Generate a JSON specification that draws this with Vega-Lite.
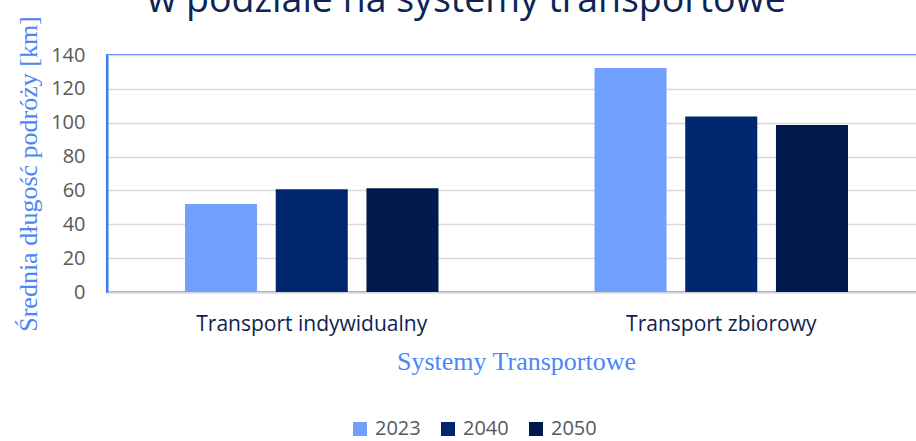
{
  "$schema": "https://vega.github.io/schema/vega-lite/v6.json",
  "width": 819,
  "height": 237,
  "autosize": "none",
  "padding": {"left": 107, "top": 55, "right": -10, "bottom": 149},
  "background": "#ffffff",
  "title": {
    "text": "w podziale na systemy transportowe",
    "font": "Open Sans",
    "fontSize": 37.5,
    "fontWeight": "normal",
    "color": "#0c2456",
    "anchor": "middle",
    "frame": "group",
    "baseline": "alphabetic",
    "offset": 2,
    "dx": -50,
    "dy": 36
  },
  "config": {"view": {"stroke": "#3b7bf3", "strokeWidth": 2}},
  "data": {
    "values": [
      {"system": "Transport indywidualny", "year": "2023", "value": 52.0},
      {"system": "Transport indywidualny", "year": "2040", "value": 60.7},
      {"system": "Transport indywidualny", "year": "2050", "value": 61.3},
      {"system": "Transport zbiorowy", "year": "2023", "value": 132.3},
      {"system": "Transport zbiorowy", "year": "2040", "value": 103.7},
      {"system": "Transport zbiorowy", "year": "2050", "value": 98.6}
    ]
  },
  "mark": {"type": "bar"},
  "encoding": {
    "x": {
      "field": "system",
      "type": "nominal",
      "sort": null,
      "scale": {"paddingInner": 0, "paddingOuter": 0},
      "axis": {
        "title": "Systemy Transportowe",
        "titleFont": "Liberation Serif",
        "titleFontSize": 26,
        "titleFontWeight": "normal",
        "titleColor": "#4a86f7",
        "titlePadding": 14,
        "titleX": 409,
        "labelAngle": 0,
        "labelFont": "Open Sans",
        "labelFontSize": 21,
        "labelLimit": 400,
        "labelColor": "#0e1f4f",
        "labelPadding": 21,
        "ticks": false,
        "domainColor": "#d0d3dc",
        "domainWidth": 2
      }
    },
    "xOffset": {
      "field": "year",
      "type": "nominal",
      "scale": {"paddingInner": 0.206, "paddingOuter": 0.86}
    },
    "y": {
      "field": "value",
      "type": "quantitative",
      "scale": {"domain": [0, 140], "nice": false},
      "axis": {
        "title": "Średnia długość podróży [km]",
        "titleFont": "Liberation Serif",
        "titleFontSize": 26,
        "titleFontWeight": "normal",
        "titleColor": "#4a86f7",
        "titlePadding": 9,
        "values": [0, 20, 40, 60, 80, 100, 120, 140],
        "labelOverlap": false,
        "labelFont": "Open Sans",
        "labelFontSize": 20,
        "labelColor": "#595959",
        "labelPadding": 22,
        "ticks": false,
        "grid": true,
        "gridColor": "#d9d9d9",
        "gridWidth": 1.5,
        "domainColor": "#3b7bf3",
        "domainWidth": 2
      }
    },
    "color": {
      "field": "year",
      "type": "nominal",
      "scale": {"domain": ["2023", "2040", "2050"], "range": ["#71a0ff", "#00266f", "#001a4d"]},
      "legend": {
        "title": null,
        "orient": "none",
        "direction": "horizontal",
        "legendX": 243,
        "legendY": 364,
        "symbolType": "square",
        "symbolSize": 196,
        "symbolStrokeWidth": 0,
        "labelFont": "Open Sans",
        "labelFontSize": 20,
        "labelColor": "#595959",
        "labelOffset": 5,
        "columnPadding": 17
      }
    }
  }
}
